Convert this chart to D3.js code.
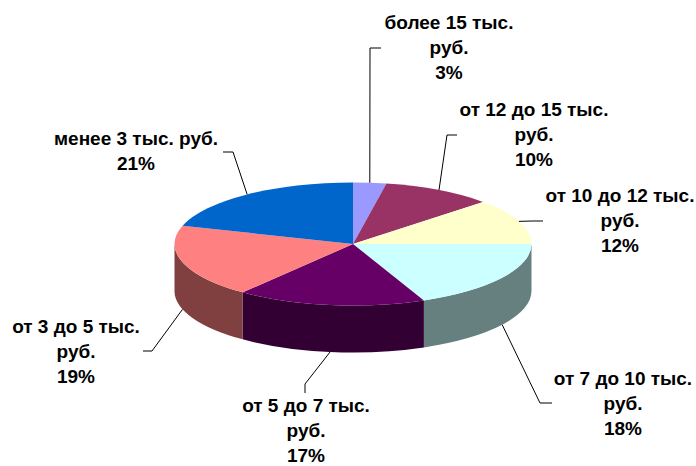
<!DOCTYPE html>
<html>
<head>
<meta charset="utf-8">
<script src="https://cdn.jsdelivr.net/npm/d3@7"></script>
<style>
  html, body { margin:0; padding:0; background:#fff; }
  text { font-family:"Liberation Sans", Arial, sans-serif; font-weight:bold; font-size:19px; fill:#000; }
</style>
</head>
<body>
<div id="chart"></div>
<script>
const categories = [
  "более 15 тыс.|руб.",
  "от 12 до 15 тыс.|руб.",
  "от 10 до 12 тыс.|руб.",
  "от 7 до 10 тыс.|руб.",
  "от 5 до 7 тыс.|руб.",
  "от 3 до 5 тыс.|руб.",
  "менее 3 тыс. руб."
];
// printed percentages
const percents = ["3%", "10%", "12%", "18%", "17%", "19%", "21%"];
// slice sizes as they measure on the drawn disc
const shares = [3, 10, 12, 18.5, 17.1, 19.2, 20.2];
const sliceColors = ["#9999FF", "#993366", "#FFFFCC", "#CCFFFF", "#660066", "#FF8080", "#0066CC"];

// label centre x, first baseline, then leader elbow and leader end
const labelPos = [
  { x:449, y:29,  elbow:[370,48],  end:[381,48]  },
  { x:534, y:116, elbow:[447,135], end:[457,135] },
  { x:620, y:202, elbow:[532,221], end:[543,221] },
  { x:623, y:385, elbow:[540,403], end:[552,403] },
  { x:306, y:411.5, elbow:[305,384], end:[305,393] },
  { x:76,  y:333, elbow:[152,351], end:[143,351] },
  { x:136, y:145, elbow:[233,152], end:[223,152] }
];

const W = 696, H = 466;
const cx = 353, cy = 244, rx = 178.5, ry = 61.5, depth = 47;
const lineH = 25;

const svg = d3.select("#chart").append("svg")
  .attr("width", W).attr("height", H)
  .style("display", "block");

const pie = d3.pie().sort(null).value(d => d);
const arcs = pie(shares);

const color = d3.scaleOrdinal().domain(d3.range(shares.length)).range(sliceColors);
const sideColor = i => {
  const c = d3.rgb(color(i));
  return d3.rgb(c.r / 2, c.g / 2, c.b / 2).formatHex();
};

// point on the rim of the tilted disc
const rim = (a, dz = 0) => [cx + rx * Math.sin(a), cy - ry * Math.cos(a) + dz];

// side walls, only the front half of the disc shows
const FRONT0 = Math.PI / 2, FRONT1 = Math.PI * 1.5;
const walls = svg.append("g");
arcs.forEach((d, i) => {
  const a0 = Math.max(d.startAngle, FRONT0), a1 = Math.min(d.endAngle, FRONT1);
  if (a1 <= a0) return;
  const p0 = rim(a0), p1 = rim(a1), q0 = rim(a0, depth), q1 = rim(a1, depth);
  walls.append("path")
    .attr("d", `M${p0}A${rx},${ry} 0 0 1 ${p1}L${q1}A${rx},${ry} 0 0 0 ${q0}Z`)
    .attr("fill", sideColor(i));
});

// top face: ordinary arcs squashed into an ellipse
const arc = d3.arc().innerRadius(0).outerRadius(rx);
svg.append("g")
  .attr("transform", `translate(${cx},${cy}) scale(1,${ry / rx})`)
  .selectAll("path")
  .data(arcs)
  .enter()
  .append("path")
  .attr("d", arc)
  .attr("fill", (d, i) => color(i));

// leader lines start from the middle of each slice's rim
arcs.forEach((d, i) => {
  const mid = (d.startAngle + d.endAngle) / 2;
  const front = mid > FRONT0 && mid < FRONT1;
  const l = labelPos[i];
  svg.append("path")
    .attr("d", d3.line()([rim(mid, front ? depth : 0), l.elbow, l.end]))
    .attr("fill", "none")
    .attr("stroke", "#000")
    .attr("stroke-width", 1);
});

categories.forEach((c, i) => {
  const l = labelPos[i];
  const lines = c.split("|").concat(percents[i]);
  const t = svg.append("text").attr("text-anchor", "middle");
  lines.forEach((s, j) => {
    t.append("tspan").attr("x", l.x).attr("y", l.y + j * lineH).text(s);
  });
});
</script>
</body>
</html>
